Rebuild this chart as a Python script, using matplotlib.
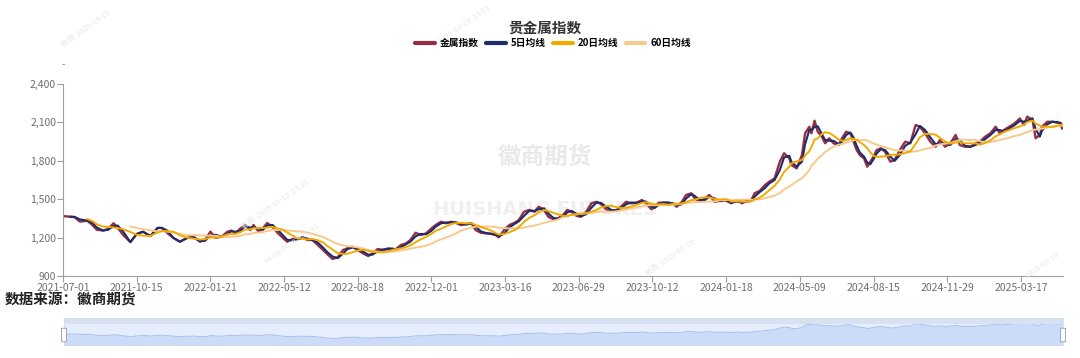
import numpy as np
import pandas as pd
import matplotlib.pyplot as plt
from matplotlib.lines import Line2D
from matplotlib.patches import FancyBboxPatch, Rectangle

plt.rcParams['font.family'] = ['Noto Sans CJK SC', 'DejaVu Sans']

# trading-day number (0 = 2021-07-01) and index level
days = [0, 7, 11, 16, 23, 28, 32, 38, 43, 48, 52, 57, 64, 70, 76, 83, 90, 94, 99, 105,
        111, 118, 124, 130, 135, 140, 145, 151, 156, 160, 164, 169, 173, 178, 181, 186, 190, 194, 199, 204,
        209, 213, 218, 223, 228, 232, 237, 242, 247, 251, 256, 261, 266, 270, 275, 280, 285, 290, 294, 299,
        304, 309, 313, 316, 321, 326, 330, 335, 340, 345, 350, 354, 359, 364, 369, 373, 378, 383, 388, 392,
        397, 402, 407, 411, 414, 419, 424, 429, 433, 438, 443, 448, 452, 457, 461, 466, 470, 475, 479, 483,
        488, 492, 497, 502, 507, 511, 516, 521, 526, 530, 535, 540, 545, 550, 554, 559, 562, 566, 570, 575,
        580, 583, 588, 592, 597, 600, 605, 610, 614, 619, 624, 629, 632, 635, 640, 645, 650, 654, 657, 662,
        667, 671, 676, 681, 685, 690, 692, 697, 702, 705, 709, 711, 714, 717, 721, 724, 728, 732, 737, 740,
        744, 748, 751, 754, 757, 761, 764, 767, 770, 773, 777, 781, 786, 790, 795, 800, 805, 810, 814, 819,
        824, 829, 833, 838, 843, 848, 852, 857, 862, 867, 871, 876, 881, 886, 890, 894, 899, 904, 909, 913,
        916, 921, 924, 928, 930, 935, 940, 945, 948, 949]
index_vals = [1368, 1363, 1360, 1325, 1332, 1298, 1262, 1255, 1268, 1312, 1276, 1222, 1165, 1228, 1246, 1212, 1276, 1275, 1236, 1197,
              1168, 1197, 1205, 1170, 1182, 1246, 1198, 1208, 1245, 1255, 1236, 1275, 1298, 1259, 1298, 1246, 1275, 1314, 1285, 1236,
              1197, 1168, 1189, 1189, 1205, 1181, 1181, 1142, 1103, 1072, 1033, 1046, 1103, 1116, 1129, 1103, 1077, 1056, 1077, 1111,
              1103, 1116, 1111, 1108, 1142, 1155, 1181, 1238, 1220, 1233, 1272, 1298, 1324, 1312, 1324, 1316, 1298, 1306, 1312, 1259,
              1238, 1233, 1228, 1220, 1202, 1259, 1298, 1316, 1337, 1402, 1416, 1402, 1441, 1416, 1363, 1343, 1350, 1377, 1416, 1402,
              1369, 1363, 1402, 1468, 1480, 1462, 1421, 1410, 1416, 1441, 1480, 1468, 1473, 1494, 1468, 1421, 1441, 1473, 1473, 1473,
              1462, 1441, 1480, 1533, 1546, 1507, 1480, 1507, 1533, 1480, 1488, 1494, 1480, 1468, 1494, 1468, 1488, 1494, 1546, 1566,
              1611, 1637, 1663, 1793, 1859, 1819, 1767, 1741, 1845, 2015, 2066, 2015, 2113, 2027, 1988, 1937, 1976, 1937, 1923, 1976,
              2027, 2015, 1949, 1884, 1845, 1819, 1754, 1793, 1832, 1884, 1898, 1871, 1793, 1806, 1884, 1949, 1937, 2080, 2066, 2015,
              1949, 1910, 1962, 1910, 1937, 2002, 1923, 1910, 1910, 1937, 1949, 1988, 2015, 2066, 2015, 2041, 2066, 2092, 2131, 2080,
              2145, 2119, 1976, 2002, 2066, 2105, 2105, 2098, 2092, 2053]

tick_labels = ['2021-07-01', '2021-10-15', '2022-01-21', '2022-05-12', '2022-08-18', '2022-12-01', '2023-03-16',
               '2023-06-29', '2023-10-12', '2024-01-18', '2024-05-09', '2024-08-15', '2024-11-29', '2025-03-17']
tick_step = 70
last_day = 950

series_names = ['金属指数', '5日均线', '20日均线', '60日均线']
ma_windows = [5, 20, 60]
colors = ['#962e44', '#1f2c6b', '#f2aa00', '#f7c98c']

# moving averages of the index (time based window over trading days)
s = pd.Series(index_vals, index=pd.to_datetime(days, unit='D'))
day_arr = np.array(days)
mas = []
for w in ma_windows:
    m = s.rolling(f'{w}D', closed='both').mean().values
    m = np.where(day_arr >= w - 1, m, np.nan)
    mas.append(m)

W, H = 1080, 358
fig = plt.figure(figsize=(W / 100, H / 100), dpi=100)
ax = fig.add_axes([63 / W, 1 - 276 / H, (1063 - 63) / W, (276 - 84) / H])

# watermarks
ax.text(0.482, 0.62, '徽商期货', transform=ax.transAxes, fontsize=17, fontweight='bold',
        color='#e9e9e9', ha='center', va='center', zorder=0)
ax.text(0.482, 0.345, 'HUISHANG FUTURES', transform=ax.transAxes, fontsize=14, fontweight='bold',
        color='#f0f0f0', ha='center', va='center', zorder=0, family='DejaVu Sans')
for fx, fy, txt in [(0.08, 0.92, '徽商  2025-05-19'), (0.255, 0.43, '徽商  2025-05-19  13:13'),
                    (0.27, 0.32, 'F4-68-0C-02-89-41'), (0.62, 0.28, '徽商  2025-05-19'),
                    (0.43, 0.93, '2025-05-19  13:13'), (0.965, 0.26, '2025-05-19')]:
    fig.text(fx, fy, txt, fontsize=5.5, color='#e8e8e8', rotation=35, ha='center', va='center', zorder=0)

ax.plot(days, index_vals, color=colors[0], lw=1.7, zorder=2)
ax.plot(days, mas[0], color=colors[1], lw=1.5, zorder=3)
ax.plot(days, mas[2], color=colors[3], lw=1.4, zorder=3.5)
ax.plot(days, mas[1], color=colors[2], lw=1.4, zorder=4)

ax.set_xlim(0, last_day)
ax.set_ylim(900, 2400)
ax.set_yticks(range(900, 2401, 300))
ax.set_yticklabels([f'{v:,}' for v in range(900, 2401, 300)])
ax.set_xticks([i * tick_step for i in range(len(tick_labels))])
ax.set_xticklabels(tick_labels)
for side in ['top', 'right']:
    ax.spines[side].set_visible(False)
for side in ['left', 'bottom']:
    ax.spines[side].set_color('#a0a0a0')
ax.tick_params(colors='#a0a0a0', labelcolor='#6e6e6e', labelsize=7.5, length=4, pad=1)
fig.text(63 / W, 1 - 65 / H, '-', fontsize=7, color='#888888', ha='center', va='center')

fig.text(545 / W, 1 - 28 / H, '贵金属指数', fontsize=10.5, fontweight='bold', color='#333333',
         ha='center', va='center')
handles = [Line2D([], [], color=c, lw=3, solid_capstyle='round') for c in colors]
fig.legend(handles, series_names, loc='center', bbox_to_anchor=(553 / W, 1 - 43 / H), ncol=4,
           frameon=False, handlelength=2.0, handletextpad=0.5, columnspacing=0.8,
           prop={'weight': 'bold', 'size': 7})

fig.text(5 / W, 1 - 300 / H, '数据来源：徽商期货', fontsize=10.5, fontweight='bold', color='#222222',
         ha='left', va='center')

# data-zoom slider
sax = fig.add_axes([64 / W, 1 - 345 / H, (1063 - 64) / W, (345 - 318) / H])
sax.set_facecolor('#e6eefd')
sax.fill_between(days, index_vals, 0, color='#ccdbf8', lw=0)
sax.plot(days, index_vals, color='#a9c0ee', lw=0.7)
sax.set_xlim(0, last_day)
sax.set_ylim(560, 2520)
sax.set_xticks([])
sax.set_yticks([])
for sp in sax.spines.values():
    sp.set_color('#d4dcec')
    sp.set_linewidth(0.6)
sax.add_patch(Rectangle((0, 0.78), 1, 0.22, transform=sax.transAxes, color='#d8e1f1', lw=0, zorder=5))
for hx in [0.0, 1.0]:
    sax.add_patch(FancyBboxPatch((hx - 0.0025, 0.12), 0.005, 0.5, boxstyle='round,pad=0,rounding_size=0.0025',
                                 transform=sax.transAxes, facecolor='white', edgecolor='#9aa6bd',
                                 lw=0.7, clip_on=False, zorder=6))

fig.savefig('out.png', dpi=100)
